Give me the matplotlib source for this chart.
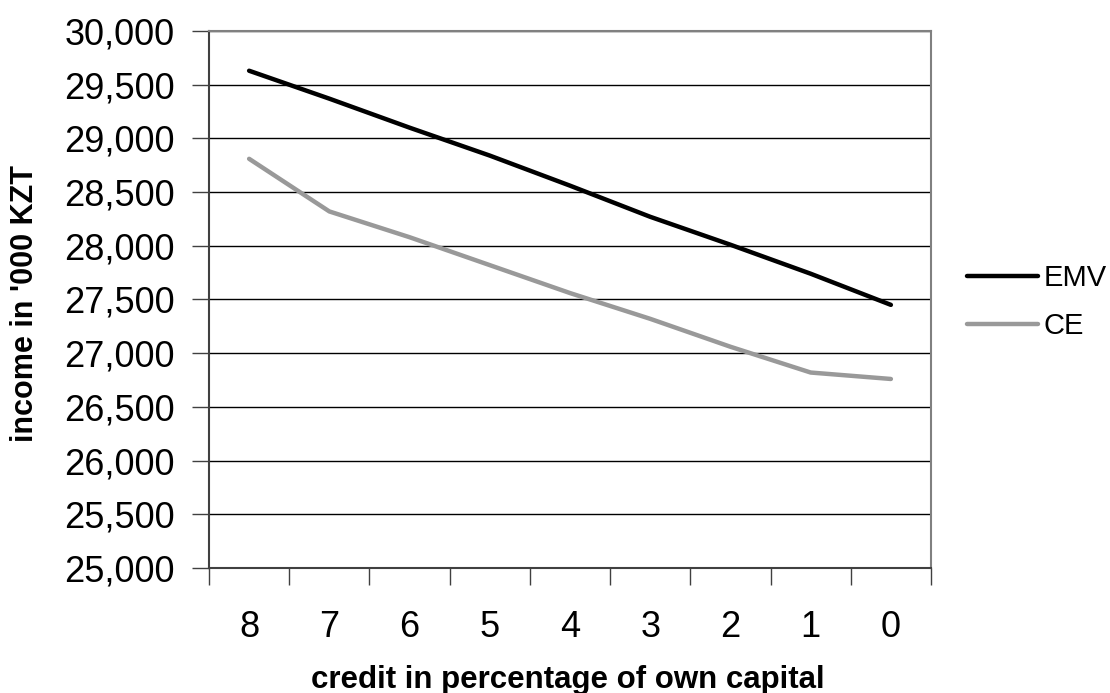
import matplotlib
matplotlib.use("Agg")
import matplotlib.pyplot as plt
from matplotlib.ticker import FuncFormatter, FixedLocator

categories = ["8", "7", "6", "5", "4", "3", "2", "1", "0"]
emv = [29630, 29370, 29100, 28840, 28560, 28270, 28010, 27740, 27450]
ce = [28810, 28320, 28080, 27820, 27560, 27320, 27060, 26820, 26760]
yticks = list(range(25000, 30001, 500))

plt.rcParams['font.family'] = ['Liberation Sans', 'DejaVu Sans']

W, H = 1110, 693
fig = plt.figure(figsize=(W / 100, H / 100), dpi=100)
ax = fig.add_axes([209/W, 1 - 568/H, (931-209)/W, (568-31)/H])

x = list(range(len(categories)))
ax.plot(x, emv, color='black', lw=3.2, label='EMV', solid_capstyle='round', solid_joinstyle='round', zorder=3)
ax.plot(x, ce, color='#999999', lw=3.2, label='CE', solid_capstyle='round', solid_joinstyle='round', zorder=3)

ax.set_xlim(-0.5, len(categories) - 0.5)
ax.set_ylim(25000, 30000)
ax.set_yticks(yticks)
ax.yaxis.set_major_formatter(FuncFormatter(lambda v, p: f"{int(v):,}"))
ax.grid(axis='y', color='black', lw=1)
ax.set_axisbelow(True)

ax.xaxis.set_major_locator(FixedLocator([i - 0.5 for i in range(len(categories) + 1)]))
ax.xaxis.set_minor_locator(FixedLocator(x))
ax.set_xticklabels([""] * (len(categories) + 1))
ax.set_xticklabels(categories, minor=True)
ax.tick_params(axis='x', which='major', length=12, width=1, color='#404040', direction='out')
ax.tick_params(axis='x', which='minor', length=0, pad=30, labelsize=26)
ax.tick_params(axis='y', length=12, width=1, color='#404040', direction='out', pad=12.5, labelsize=26)

for s in ['top', 'right']:
    ax.spines[s].set_color('#808080')
    ax.spines[s].set_linewidth(1.5)
for s in ['left', 'bottom']:
    ax.spines[s].set_color('#404040')
    ax.spines[s].set_linewidth(1.5)

fig.text(568/W, 1 - 688/H, "credit in percentage of own capital", fontsize=22.5, fontweight='bold',
         ha='center', va='baseline')
fig.text(25/W, 1 - 303/H, "income in '000 KZT", fontsize=22, fontweight='bold',
         ha='center', va='center', rotation=90)

leg = ax.legend(loc='center left', bbox_to_anchor=((967-209)/722, (568-302)/537), frameon=False, fontsize=21,
                handlelength=2.45, handletextpad=0.17, labelspacing=0.7, borderpad=0, borderaxespad=0)

fig.savefig("out.png", dpi=100)
